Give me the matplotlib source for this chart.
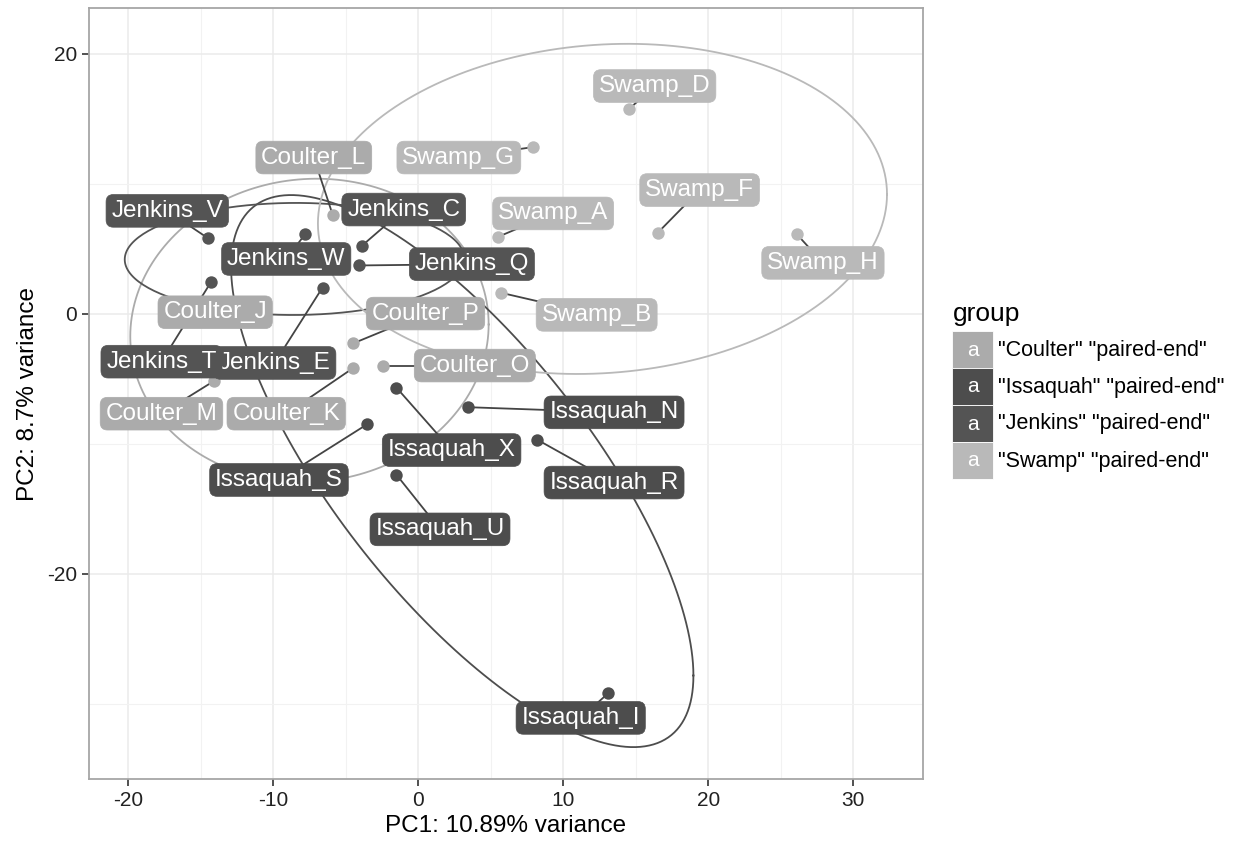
import matplotlib.pyplot as plt
import numpy as np
from matplotlib.patches import Rectangle

plt.rcParams['font.family'] = ['Liberation Sans', 'DejaVu Sans']
plt.rcParams['axes.unicode_minus'] = False

# PCA scores
groups = ['Coulter', 'Issaquah', 'Jenkins', 'Swamp']
group_colors = {'Coulter': '#ababab', 'Issaquah': '#4d4d4d',
                'Jenkins': '#545454', 'Swamp': '#b9b9b9'}

names = ['Coulter_J', 'Coulter_K', 'Coulter_L', 'Coulter_M', 'Coulter_O', 'Coulter_P',
         'Issaquah_I', 'Issaquah_N', 'Issaquah_R', 'Issaquah_S', 'Issaquah_U', 'Issaquah_X',
         'Jenkins_C', 'Jenkins_E', 'Jenkins_Q', 'Jenkins_T', 'Jenkins_V', 'Jenkins_W',
         'Swamp_A', 'Swamp_B', 'Swamp_D', 'Swamp_F', 'Swamp_G', 'Swamp_H']
pc1 = [-13.6, -4.5, -5.9, -14.1, -2.4, -4.5,
       13.1, 3.4, 8.2, -3.5, -1.5, -1.5,
       -3.9, -6.6, -4.1, -14.3, -14.5, -7.8,
       5.5, 5.7, 14.5, 16.5, 7.9, 26.1]
pc2 = [0.3, -4.2, 7.6, -5.2, -4.0, -2.3,
       -29.2, -7.2, -9.7, -8.5, -12.4, -5.7,
       5.2, 2.0, 3.7, 2.4, 5.8, 6.1,
       5.9, 1.6, 15.7, 6.2, 12.8, 6.1]

# where the repelled labels ended up (label centre, data units)
label_pos = {
    'Coulter_J': (-14.0, 0.1), 'Coulter_K': (-9.1, -7.7), 'Coulter_L': (-7.2, 12.0),
    'Coulter_M': (-17.7, -7.7), 'Coulter_O': (3.9, -4.0), 'Coulter_P': (0.5, 0.0),
    'Issaquah_I': (11.2, -31.1), 'Issaquah_N': (13.5, -7.6), 'Issaquah_R': (13.5, -13.0),
    'Issaquah_S': (-9.6, -12.8), 'Issaquah_U': (1.5, -16.6), 'Issaquah_X': (2.3, -10.5),
    'Jenkins_C': (-1.0, 8.0), 'Jenkins_E': (-9.9, -3.8), 'Jenkins_Q': (3.7, 3.8),
    'Jenkins_T': (-17.7, -3.7), 'Jenkins_V': (-17.3, 7.9), 'Jenkins_W': (-9.1, 4.2),
    'Swamp_A': (9.3, 7.7), 'Swamp_B': (12.3, -0.1), 'Swamp_D': (16.3, 17.5),
    'Swamp_F': (19.4, 9.5), 'Swamp_G': (2.8, 12.0), 'Swamp_H': (27.9, 3.9),
}

pc1 = np.array(pc1)
pc2 = np.array(pc2)
grp = np.array([n.split('_')[0] for n in names])


def ellipse_path(x, level=0.95, segments=200):
    # normal-theory ellipse: sample covariance, chi-square(2) radius
    cov = np.cov(x, rowvar=False)
    center = x.mean(axis=0)
    radius = np.sqrt(-2 * np.log(1 - level))
    chol = np.linalg.cholesky(cov).T
    ang = np.linspace(0, 2 * np.pi, segments + 1)
    circ = np.column_stack([np.cos(ang), np.sin(ang)])
    return center + radius * circ @ chol


fig = plt.figure(figsize=(12.34, 8.46), dpi=100)
ax = fig.add_axes([0.0721, 0.0792, 0.6759, 0.9113])

for g in groups:
    m = grp == g
    e = ellipse_path(np.column_stack([pc1[m], pc2[m]]))
    ax.plot(e[:, 0], e[:, 1], color=group_colors[g], lw=1.3, zorder=2,
            solid_joinstyle='round')

for i, n in enumerate(names):
    c = group_colors[grp[i]]
    lx, ly = label_pos[n]
    ax.plot([pc1[i], lx], [pc2[i], ly], color='#444444', lw=1.3, zorder=3)
    ax.scatter(pc1[i], pc2[i], s=80, color=c, zorder=4, linewidths=0)
    ax.text(lx, ly, n, color='white', fontsize=17.5, ha='center', va='center', zorder=5,
            bbox=dict(boxstyle='round,pad=0.22,rounding_size=0.3', fc=c, ec=c, lw=0.5))

ax.set_xticks([-20, -10, 0, 10, 20, 30])
ax.set_yticks([-20, 0, 20])
ax.set_xticks([-15, -5, 5, 15, 25], minor=True)
ax.set_yticks([-30, -10, 10], minor=True)
ax.set_xlim(-22.7, 34.8)
ax.set_ylim(-35.8, 23.5)
ax.grid(which='major', color='#ebebeb', lw=1.1, zorder=0)
ax.grid(which='minor', color='#f2f2f2', lw=0.8, zorder=0)
ax.set_axisbelow(True)
ax.tick_params(which='major', labelsize=15, length=5, width=1.2, color='#333333',
               labelcolor='#222222')
ax.tick_params(which='minor', length=0)
for s in ax.spines.values():
    s.set_color('#a6a6a6')
    s.set_linewidth(1.3)
ax.set_xlabel('PC1: 10.89% variance', fontsize=17.5, labelpad=4)
ax.set_ylabel('PC2: 8.7% variance', fontsize=17.5, labelpad=6)

# legend built by hand: coloured key with a white "a"
fig.text(953 / 1234, 1 - 314 / 846, 'group', fontsize=19, va='center', ha='left')
key_h = 37
for k, g in enumerate(groups):
    yc = 350 + k * key_h
    fig.patches.append(Rectangle((952 / 1234, 1 - (yc + key_h / 2) / 846), 41 / 1234,
                                 key_h / 846, transform=fig.transFigure,
                                 fc=group_colors[g], ec='white', lw=0.6))
    fig.text(972.5 / 1234, 1 - yc / 846, 'a', color='white', fontsize=15,
             ha='center', va='center')
    fig.text(998 / 1234, 1 - yc / 846, '"%s" "paired-end"' % g, fontsize=15.5,
             ha='left', va='center')

fig.savefig('out.png', dpi=100)
